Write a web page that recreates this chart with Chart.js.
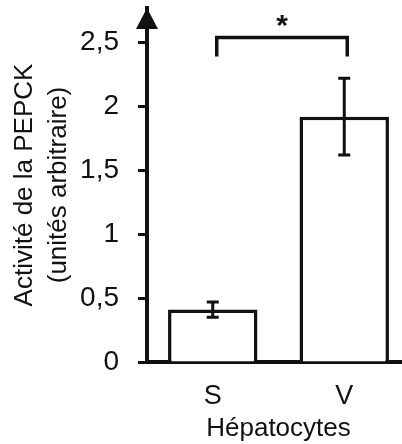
<!DOCTYPE html>
<html>
<head>
<meta charset="utf-8">
<script src="https://cdn.jsdelivr.net/npm/chart.js@4"></script>
<style>
  html, body { margin: 0; padding: 0; background: #fff; overflow: hidden; }
  #wrap { width: 410px; height: 444px; }
</style>
</head>
<body>
<div id="wrap"><canvas id="pepck-chart" width="410" height="444"></canvas></div>
<script>
  /* ---- data ---- */
  var categories = ['S', 'V'];
  var activity = [0.41, 1.92];
  var errors = [0.06, 0.30];
  var yTicks = [0, 0.5, 1, 1.5, 2, 2.5];
  var yMax = 2.77;
  var bracketPair = [0, 1];          // S vs V
  var bracketLevels = [2.54, 2.39];  // top of bracket, end of legs
  var bracketLabel = '*';

  var ink = '#111';
  var family = "'Liberation Sans', Arial, sans-serif";

  /* ---- error bars, significance bracket, axis arrow ---- */
  var extras = {
    id: 'extras',
    afterDatasetsDraw: function(chart) {
      var ctx = chart.ctx;
      var x = chart.scales.x, y = chart.scales.y;
      var area = chart.chartArea;
      ctx.save();
      ctx.strokeStyle = ink;
      ctx.fillStyle = ink;

      // error bars
      ctx.lineWidth = 3;
      for (var i = 0; i < activity.length; i++) {
        var cx = x.getPixelForValue(i);
        var yHi = y.getPixelForValue(activity[i] + errors[i]);
        var yLo = y.getPixelForValue(activity[i] - errors[i]);
        ctx.beginPath();
        ctx.moveTo(cx, yHi); ctx.lineTo(cx, yLo);
        ctx.moveTo(cx - 6, yHi); ctx.lineTo(cx + 6, yHi);
        ctx.moveTo(cx - 6, yLo); ctx.lineTo(cx + 6, yLo);
        ctx.stroke();
      }

      // bracket
      var bx1 = x.getPixelForValue(bracketPair[0]) + 4;
      var bx2 = x.getPixelForValue(bracketPair[1]) + 3;
      var bTop = y.getPixelForValue(bracketLevels[0]);
      var bEnd = y.getPixelForValue(bracketLevels[1]);
      ctx.lineWidth = 3.5;
      ctx.beginPath();
      ctx.moveTo(bx1, bEnd); ctx.lineTo(bx1, bTop);
      ctx.lineTo(bx2, bTop); ctx.lineTo(bx2, bEnd);
      ctx.stroke();
      ctx.font = 'bold 30px ' + family;
      ctx.textAlign = 'center';
      ctx.textBaseline = 'alphabetic';
      ctx.fillText(bracketLabel, (bx1 + bx2) / 2, bTop - 2);

      // arrow head on the y axis
      var ax = area.left;
      ctx.beginPath();
      ctx.moveTo(ax, area.top);
      ctx.lineTo(ax - 11, area.top + 21);
      ctx.lineTo(ax + 11, area.top + 21);
      ctx.closePath();
      ctx.fill();
      ctx.restore();
    }
  };

  new Chart(document.getElementById('pepck-chart'), {
    type: 'bar',
    data: {
      labels: categories,
      datasets: [{
        data: activity,
        backgroundColor: '#fff',
        borderColor: ink,
        borderWidth: 3.5,
        borderSkipped: 'bottom',
        barPercentage: 0.68,
        categoryPercentage: 1
      }]
    },
    options: {
      responsive: false,
      animation: false,
      layout: { padding: { top: 8, left: 0, right: 0, bottom: 0 } },
      plugins: {
        legend: { display: false },
        tooltip: { enabled: false }
      },
      scales: {
        x: {
          afterFit: function(s) {
            s.height = 82;
            s.paddingLeft = 0; s.paddingRight = 0;
          },
          ticks: { color: ink, font: { family: family, size: 27 }, padding: 10 },
          grid: { display: false },
          border: { display: true, color: ink, width: 4 },
          title: {
            display: true, text: 'Hépatocytes', color: ink,
            font: { family: family, size: 26 },
            padding: { top: 0, bottom: 0 }
          }
        },
        y: {
          min: 0,
          max: yMax,
          afterFit: function(s) {
            s.width = 147;
            s.paddingTop = 0; s.paddingBottom = 0;
          },
          afterBuildTicks: function(s) {
            s.ticks = yTicks.map(function(v) { return { value: v }; });
          },
          ticks: {
            color: ink,
            font: { family: family, size: 28 },
            padding: 19,
            callback: function(v) { return String(v).replace('.', ','); }
          },
          grid: {
            drawOnChartArea: false, drawTicks: true,
            tickLength: 9, tickWidth: 3, tickColor: ink
          },
          border: { display: true, color: ink, width: 4 },
          title: {
            display: true,
            text: ['Activité de la PEPCK', '(unités arbitraire)'],
            color: ink,
            font: { family: family, size: 26, lineHeight: 1.3 },
            padding: { top: 8, bottom: 0 }
          }
        }
      }
    },
    plugins: [extras]
  });
</script>
</body>
</html>
